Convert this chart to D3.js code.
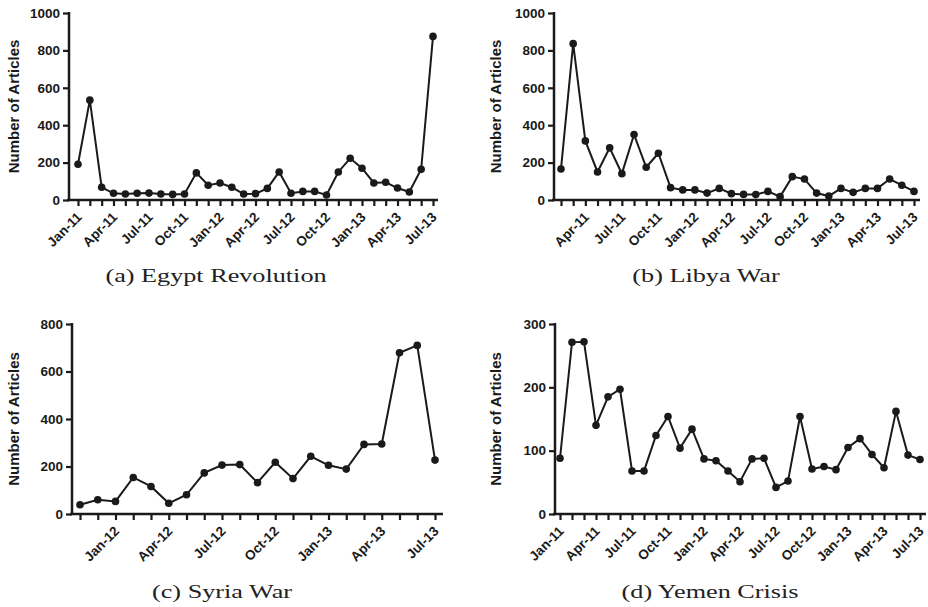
<!DOCTYPE html>
<html>
<head>
<meta charset="utf-8">
<script src="https://cdn.jsdelivr.net/npm/d3@7"></script>
<style>
  body { margin: 0; background: #fff; }
  .axis text, .ylab { font-family: "Liberation Sans", Arial, sans-serif; font-weight: bold; fill: #1a1a1a; }
  .caption { font-family: "Liberation Serif", "Times New Roman", serif; fill: #222; }
</style>
</head>
<body>
<svg id="chart" width="928" height="607"></svg>
<script>
// month categories (Jan 2011 .. Jul 2013)
const months = ["Jan-11","Feb-11","Mar-11","Apr-11","May-11","Jun-11","Jul-11","Aug-11","Sep-11","Oct-11","Nov-11","Dec-11",
  "Jan-12","Feb-12","Mar-12","Apr-12","May-12","Jun-12","Jul-12","Aug-12","Sep-12","Oct-12","Nov-12","Dec-12",
  "Jan-13","Feb-13","Mar-13","Apr-13","May-13","Jun-13","Jul-13"];
const tickLabels = ["Jan-11","Apr-11","Jul-11","Oct-11","Jan-12","Apr-12","Jul-12","Oct-12","Jan-13","Apr-13","Jul-13"];

// number of articles per month
const egypt = [191, 534, 68, 36, 32, 36, 37, 32, 30, 32, 145, 79, 91, 68, 32, 34, 62, 150, 36, 46, 46, 27, 150, 223, 170, 91, 95, 64, 43, 164, 875];
const libya = [166, 836, 316, 150, 279, 141, 350, 175, 250, 66, 54, 54, 37, 62, 34, 30, 29, 46, 18, 125, 112, 37, 21, 62, 41, 62, 62, 112, 79, 46];
const syria = [39, 60, 53, 154, 116, 45, 81, 173, 206, 208, 132, 218, 149, 243, 205, 189, 293, 295, 679, 710, 227];
const yemen = [88, 271, 272, 140, 185, 197, 68, 68, 124, 154, 104, 134, 87, 84, 68, 51, 87, 88, 42, 52, 154, 71, 75, 70, 105, 119, 94, 73, 162, 93, 86];

const captions = ["(a) Egypt Revolution", "(b) Libya War", "(c) Syria War", "(d) Yemen Crisis"];
const starts = ["Jan-11", "Feb-11", "Nov-11", "Jan-11"];
const yMaxes = [1000, 1000, 800, 300];
const ySteps = [200, 200, 200, 100];
const series = [egypt, libya, syria, yemen];

// panel layout
const layout = [
  {ox: 69, x0: 78, x1: 433, xEnd: 438, yTop: 13, yBot: 200, labX: 19, capX: 216, capY: 282},
  {ox: 554, x0: 561, x1: 914, xEnd: 920, yTop: 13, yBot: 200, labX: 501, capX: 706, capY: 282},
  {ox: 72, x0: 80, x1: 435, xEnd: 443, yTop: 324, yBot: 514, labX: 19, capX: 222, capY: 598},
  {ox: 555, x0: 560, x1: 920, xEnd: 926, yTop: 324, yBot: 514, labX: 501, capX: 710, capY: 598}
];

const svg = d3.select("#chart");
const ink = "#1a1a1a";

series.forEach((values, i) => {
  const p = layout[i];
  const s = months.indexOf(starts[i]);
  const cats = months.slice(s, s + values.length);
  const data = cats.map((m, j) => ({month: m, value: values[j]}));

  const x = d3.scalePoint().domain(cats).range([p.x0, p.x1]);
  const y = d3.scaleLinear().domain([0, yMaxes[i]]).range([p.yBot, p.yTop]);

  const g = svg.append("g");

  // x axis
  const xa = g.append("g")
    .attr("class", "axis")
    .attr("transform", `translate(0,${p.yBot})`)
    .call(d3.axisBottom(x).tickValues(cats).tickSize(6)
      .tickFormat(d => tickLabels.includes(d) ? d : ""));
  xa.select(".domain").remove();
  xa.selectAll(".tick line").attr("stroke", ink).attr("stroke-width", 2.2);
  xa.selectAll(".tick text")
    .attr("x", 0).attr("y", 0).attr("dy", 0)
    .attr("text-anchor", "end")
    .attr("font-size", 13.5)
    .attr("transform", "translate(4,18) rotate(-45)");
  g.append("line")
    .attr("x1", p.ox - 2).attr("x2", p.xEnd)
    .attr("y1", p.yBot).attr("y2", p.yBot)
    .attr("stroke", ink).attr("stroke-width", 2.5);

  // y axis
  const ya = g.append("g")
    .attr("class", "axis")
    .attr("transform", `translate(${p.ox},0)`)
    .call(d3.axisLeft(y).tickValues(d3.range(0, yMaxes[i] + 1, ySteps[i]))
      .tickFormat(d3.format("d")).tickSize(6).tickPadding(3));
  ya.select(".domain").remove();
  ya.selectAll(".tick line").attr("stroke", ink).attr("stroke-width", 2.2);
  ya.selectAll(".tick text").attr("font-size", 13.5);
  g.append("line")
    .attr("x1", p.ox).attr("x2", p.ox)
    .attr("y1", p.yTop - 1).attr("y2", p.yBot + 1)
    .attr("stroke", ink).attr("stroke-width", 2.5);

  g.append("text")
    .attr("class", "ylab")
    .attr("transform", `translate(${p.labX},${(p.yTop + p.yBot) / 2}) rotate(-90)`)
    .attr("text-anchor", "middle")
    .attr("font-size", 15)
    .text("Number of Articles");

  // series line and markers
  const line = d3.line().x(d => x(d.month)).y(d => y(d.value));
  g.append("path")
    .datum(data)
    .attr("fill", "none")
    .attr("stroke", ink)
    .attr("stroke-width", 2)
    .attr("d", line);
  g.selectAll("circle")
    .data(data)
    .join("circle")
    .attr("cx", d => x(d.month))
    .attr("cy", d => y(d.value))
    .attr("r", 3.8)
    .attr("fill", ink);

  // caption
  svg.append("text")
    .attr("class", "caption")
    .attr("transform", `translate(${p.capX},${p.capY}) scale(1.38,1)`)
    .attr("text-anchor", "middle")
    .attr("font-size", 19)
    .text(captions[i]);
});
</script>
</body>
</html>
